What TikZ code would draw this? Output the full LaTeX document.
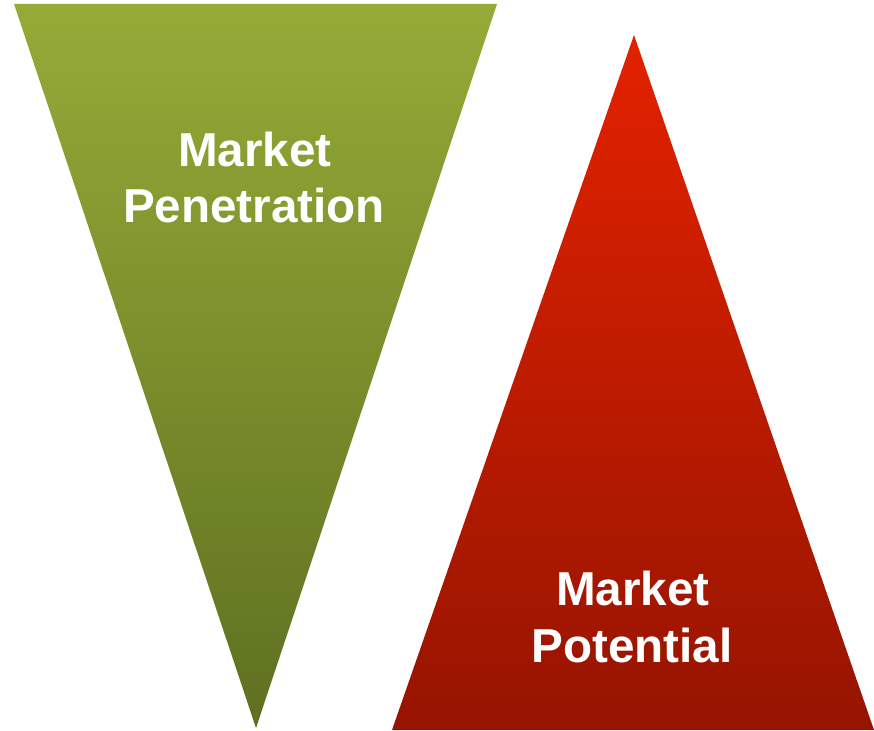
\documentclass[tikz,border=0pt]{standalone}
\usepackage{fontspec}
\setmainfont{Liberation Sans}
\definecolor{gtop}{RGB}{149,171,55}
\definecolor{gbot}{RGB}{94,112,32}
\definecolor{rtop}{RGB}{227,34,0}
\definecolor{rbot}{RGB}{150,20,0}
\tikzset{lbl/.style={text=white,font=\fontsize{47.6}{57}\selectfont\bfseries,align=center,inner sep=0pt}}
\begin{document}
\begin{tikzpicture}[x=1pt,y=-1pt]
\useasboundingbox (0,0) rectangle (874,730);
\shade[top color=gtop,bottom color=gbot] (14,4) -- (497,4) -- (256,728) -- cycle;
\shade[top color=rtop,bottom color=rbot] (634,35) -- (874,730) -- (392,730) -- cycle;
\node[lbl,anchor=base] (mp1) at (255,166) {Market};
\node[lbl,anchor=base] (mp2) at (254,222) {Penetration};
\node[lbl,anchor=base] (pt1) at (633,605) {Market};
\node[lbl,anchor=base] (pt2) at (632,662) {Potential};
\end{tikzpicture}
\end{document}
